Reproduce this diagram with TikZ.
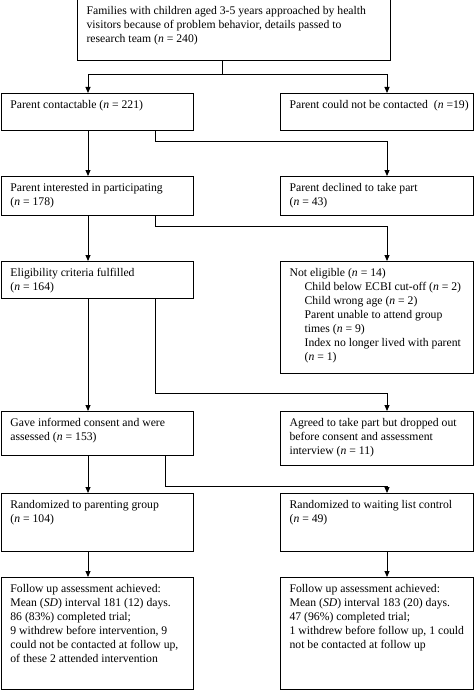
\documentclass[tikz,border=0pt]{standalone}
\usepackage{fontspec}
\setmainfont{Liberation Serif}
\usetikzlibrary{arrows.meta,calc}

\newcommand{\boxtext}[3]{\parbox[t][#2][t]{#1}{\begin{tabular}[t]{@{}l@{}}#3\end{tabular}}}
\newcommand{\ind}{\hspace*{15pt}}

\begin{document}
\begin{tikzpicture}[x=1pt,y=-1pt,>={Triangle[width=5pt,length=6pt]},
    box/.style={draw,line width=1.2pt,anchor=north west,inner xsep=9pt,inner ysep=5.5pt,
      font=\fontsize{11.7}{14}\selectfont},
    link/.style={->,line width=0.9pt}]
  \useasboundingbox (0,0) rectangle (474,690);
  % columns of the connectors
  \coordinate (stem) at (222,0);
  \coordinate (cl) at (88,0);
  \coordinate (cr) at (387,0);
  \coordinate (sa) at (155,0);
  \coordinate (sb) at (165,0);

  \node[box] (top) at (77,-1) {\boxtext{295pt}{50pt}{Families with children aged 3-5 years approached by health\\
    visitors because of problem behavior, details passed to\\
    research team (\emph{n} = 240)}};

  \node[box] (p2) at (0.8,93) {\boxtext{174.2pt}{26pt}{Parent contactable (\emph{n} = 221)}};
  \node[box] (q2) at (280,93) {\boxtext{175.2pt}{26pt}{Parent could not be contacted~ (\emph{n} =19)}};

  \node[box] (p3) at (0.8,176) {\boxtext{174.2pt}{28pt}{Parent interested in participating\\(\emph{n} = 178)}};
  \node[box] (q3) at (280,176) {\boxtext{175.2pt}{28pt}{Parent declined to take part\\(\emph{n} = 43)}};

  \node[box] (p4) at (0.8,261) {\boxtext{174.2pt}{26pt}{Eligibility criteria fulfilled\\(\emph{n} = 164)}};
  \node[box] (q4) at (280,261) {\boxtext{175.2pt}{101pt}{Not eligible (\emph{n} = 14)\\
    \ind Child below ECBI cut-off (\emph{n} = 2)\\
    \ind Child wrong age (\emph{n} = 2)\\
    \ind Parent unable to attend group\\
    \ind times (\emph{n} = 9)\\
    \ind Index no longer lived with parent\\
    \ind (\emph{n} = 1)}};

  \node[box] (p5) at (0.8,411) {\boxtext{174.2pt}{33pt}{Gave informed consent and were\\assessed (\emph{n} = 153)}};
  \node[box] (q5) at (280,411) {\boxtext{175.2pt}{43pt}{Agreed to take part but dropped out\\
    before consent and assessment\\interview (\emph{n} = 11)}};

  \node[box] (p6) at (0.8,493) {\boxtext{174.2pt}{47pt}{Randomized to parenting group\\(\emph{n} = 104)}};
  \node[box] (q6) at (280,493) {\boxtext{175.2pt}{47pt}{Randomized to waiting list control\\(\emph{n} = 49)}};

  \node[box] (p7) at (0.8,577) {\boxtext{174.2pt}{101pt}{Follow up assessment achieved:\\
    Mean (\emph{SD}) interval 181 (12) days.\\
    86 (83\%) completed trial;\\
    9 withdrew before intervention, 9\\
    could not be contacted at follow up,\\
    of these 2 attended intervention}};
  \node[box] (q7) at (280,577) {\boxtext{175.2pt}{101pt}{Follow up assessment achieved:\\
    Mean (\emph{SD}) interval 183 (20) days.\\
    47 (96\%) completed trial;\\
    1 withdrew before follow up, 1 could\\
    not be contacted at follow up}};

  % connectors
  \draw[link] (top.south -| stem) -- ++(0,13) -| (p2.north -| cl);
  \draw[link] (top.south -| stem) ++(0,13) -| (q2.north -| cr);

  \draw[link] (p2.south -| cl) -- (p3.north -| cl);
  \draw[link] (p2.south -| sa) -- ++(0,10) -| (q3.north -| cr);

  \draw[link] (p3.south -| cl) -- (p4.north -| cl);
  \draw[link] (p3.south -| sa) -- ++(0,10) -| (q4.north -| cr);

  \draw[link] (p4.south -| cl) -- (p5.north -| cl);
  \draw[link] (p4.south -| sa) -- ++(0,94) -| (q5.north -| cr);

  \draw[link] (p5.south -| cl) -- (p6.north -| cl);
  \draw[link] (p5.south -| sb) -- ++(0,30) -| (q6.north -| cr);

  \draw[link] (p6.south -| cl) -- (p7.north -| cl);
  \draw[link] (q6.south -| cr) -- (q7.north -| cr);
\end{tikzpicture}
\end{document}
